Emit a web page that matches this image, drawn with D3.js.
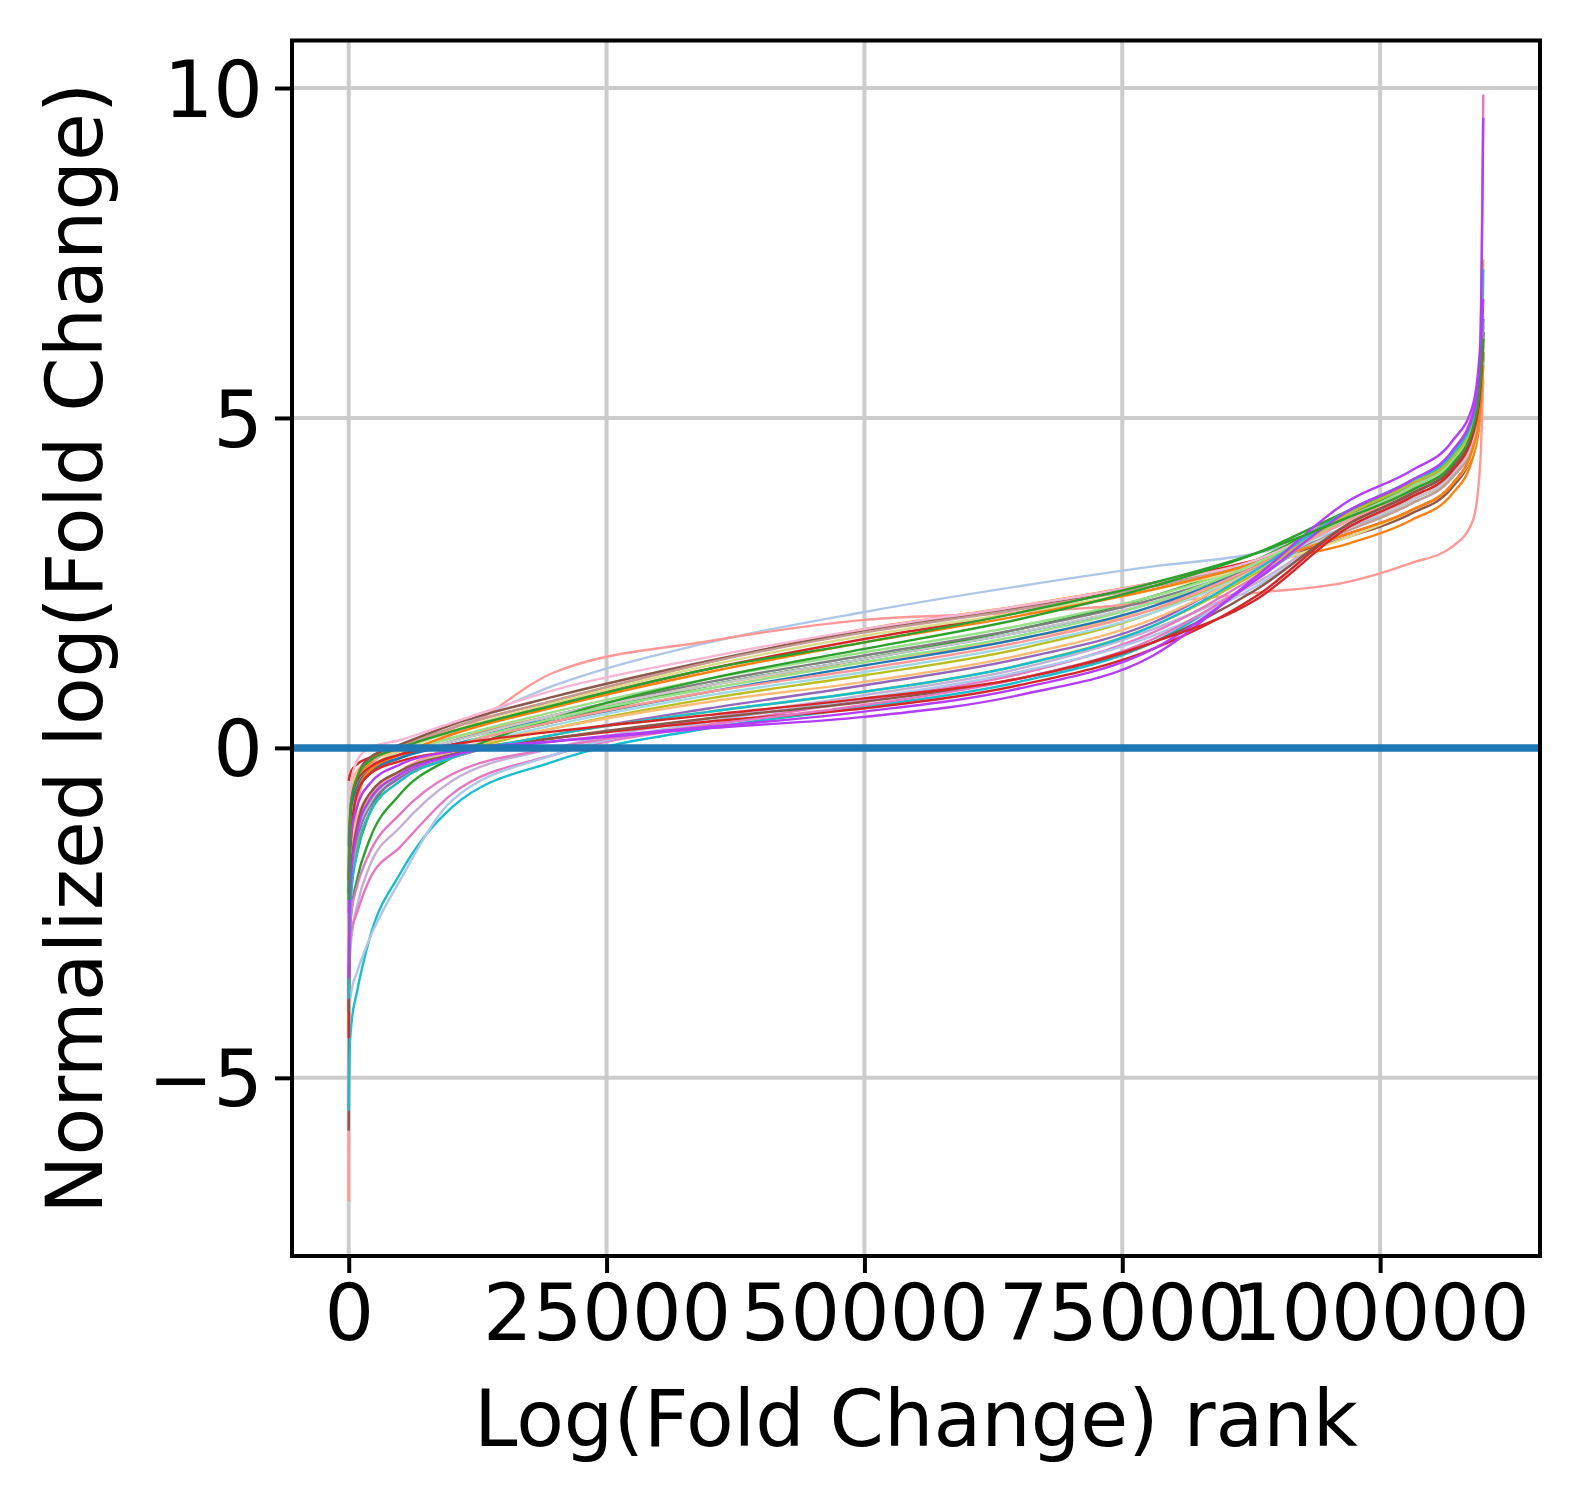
<!DOCTYPE html>
<html><head><meta charset="utf-8">
<script src="https://cdn.jsdelivr.net/npm/d3@7"></script>
<style>html,body{margin:0;padding:0;background:#fff;}svg{display:block;}</style>
</head><body>
<svg id="chart" width="1579" height="1509"></svg>
<script>
// Shared rank grid (x knots) for all series
const ranks = [0, 60, 250, 800, 2000, 5000, 10000, 20000, 35000, 50000, 65000, 78000, 88000, 97000, 103000, 107000, 109000, 109700, 110000];

const seriesColors = [
  "#1f77b4","#aec7e8","#ff7f0e","#ffbb78","#2ca02c","#98df8a","#d62728","#ff9896",
  "#9467bd","#c5b0d5","#8c564b","#c49c94","#e377c2","#f7b6d2","#7f7f7f","#c7c7c7",
  "#bcbd22","#dbdb8d","#17becf","#9edae5",
  "#1f77b4","#aec7e8","#ff7f0e","#ffbb78","#2ca02c","#98df8a","#d62728","#ff9896",
  "#8c564b","#e377c2","#bcbd22","#17becf","#b33dfb","#b33dfb","#d62728","#2ca02c"
];

const seriesValues = [
  [-1.5,-1.2,-0.8,-0.55,-0.35,-0.15,0.1,0.45,0.95,1.35,1.75,2.2,2.75,3.45,3.85,4.25,4.8,5.4,6.2],
  [-2.0,-1.3,-0.8,-0.45,-0.2,0.05,0.3,0.95,1.6,2.06,2.45,2.75,2.95,3.35,3.7,4.1,4.6,5.3,7.1],
  [-3.0,-1.6,-0.9,-0.5,-0.25,0.0,0.3,0.72,1.3,1.8,2.15,2.5,2.8,3.1,3.45,3.85,4.4,5.0,6.0],
  [-2.2,-1.1,-0.6,-0.35,-0.2,-0.05,0.15,0.5,0.95,1.3,1.65,2.1,2.65,3.35,3.8,4.2,4.7,5.3,6.1],
  [-3.0,-2.6,-2.1,-1.6,-1.0,-0.4,0.0,0.4,0.95,1.35,1.8,2.3,2.85,3.55,3.95,4.35,4.9,5.5,6.3],
  [-2.5,-1.5,-0.9,-0.55,-0.3,-0.1,0.15,0.55,1.05,1.45,1.85,2.3,2.8,3.45,3.9,4.35,4.95,5.7,6.55],
  [-0.5,-0.45,-0.35,-0.25,-0.15,0.0,0.25,0.65,1.2,1.65,2.05,2.5,2.85,3.25,3.6,4.0,4.55,5.2,6.0],
  [-6.87,-3.5,-1.8,-0.9,-0.3,0.05,0.22,1.15,1.62,1.94,2.05,2.2,2.35,2.52,2.8,3.05,3.45,4.3,5.6],
  [-3.2,-2.5,-1.9,-1.4,-0.9,-0.45,-0.15,0.2,0.6,0.95,1.35,1.9,2.75,3.6,4.0,4.45,5.0,5.7,6.5],
  [-4.0,-3.4,-2.9,-2.4,-1.8,-1.2,-0.5,0.0,0.45,0.8,1.2,1.8,2.5,3.4,3.85,4.3,4.85,5.5,6.2],
  [-5.8,-2.5,-1.2,-0.45,-0.15,0.05,0.35,0.78,1.32,1.78,2.12,2.45,2.8,3.2,3.55,3.95,4.5,5.1,5.9],
  [-2.6,-1.4,-0.8,-0.45,-0.2,0.0,0.3,0.72,1.3,1.75,2.1,2.45,2.8,3.3,3.7,4.1,4.6,5.2,6.0],
  [-3.4,-3.1,-2.8,-2.5,-2.0,-1.5,-0.7,-0.1,0.35,0.72,1.12,1.75,2.6,3.5,3.95,4.4,4.95,5.6,6.4],
  [-2.0,-1.0,-0.5,-0.2,0.0,0.12,0.38,0.88,1.38,1.8,2.15,2.5,2.85,3.5,3.9,4.3,4.85,5.6,6.4],
  [-2.8,-1.8,-1.1,-0.7,-0.4,-0.15,0.1,0.5,1.0,1.4,1.8,2.25,2.75,3.35,3.75,4.15,4.7,5.3,6.0],
  [-2.5,-1.6,-1.0,-0.6,-0.35,-0.1,0.1,0.5,0.95,1.35,1.75,2.2,2.7,3.35,3.75,4.15,4.65,5.3,6.0],
  [-3.5,-2.4,-1.7,-1.2,-0.8,-0.4,-0.1,0.3,0.75,1.1,1.5,2.05,2.75,3.6,4.05,4.45,5.0,5.8,7.4],
  [-2.8,-1.5,-0.9,-0.5,-0.3,-0.05,0.25,0.68,1.25,1.7,2.05,2.4,2.75,3.2,3.6,4.0,4.5,5.1,5.8],
  [-5.5,-4.7,-4.2,-3.7,-2.9,-1.9,-0.9,-0.2,0.3,0.62,1.0,1.6,2.55,3.55,4.0,4.45,5.0,5.8,7.25],
  [-3.0,-2.2,-1.6,-1.1,-0.7,-0.35,-0.05,0.35,0.8,1.15,1.55,2.05,2.7,3.45,3.9,4.3,4.85,5.5,6.3],
  [-2.2,-1.4,-0.9,-0.6,-0.35,-0.15,0.05,0.4,0.85,1.25,1.65,2.15,2.75,3.5,3.9,4.3,4.85,5.5,6.3],
  [-4.4,-4.0,-3.7,-3.4,-2.9,-2.0,-0.8,-0.1,0.4,0.75,1.15,1.7,2.45,3.35,3.8,4.2,4.75,5.4,6.2],
  [-4.3,-2.6,-1.4,-0.7,-0.35,-0.1,0.2,0.62,1.15,1.6,2.0,2.4,2.8,3.25,3.6,4.0,4.55,5.1,5.8],
  [-3.0,-2.2,-1.6,-1.1,-0.7,-0.35,-0.05,0.3,0.7,1.0,1.4,1.95,2.7,3.5,3.9,4.3,4.85,5.5,6.2],
  [-3.6,-3.0,-2.5,-2.0,-1.4,-0.7,-0.15,0.45,1.05,1.5,1.95,2.45,2.95,3.6,4.0,4.4,4.95,5.6,6.3],
  [-3.2,-2.4,-1.8,-1.3,-0.85,-0.4,0.0,0.45,0.9,1.3,1.7,2.2,2.8,3.5,3.95,4.35,4.9,5.6,6.4],
  [-4.4,-2.5,-1.3,-0.7,-0.4,-0.2,-0.05,0.15,0.4,0.6,0.95,1.5,2.3,3.4,3.85,4.25,4.8,5.5,6.3],
  [-3.4,-2.4,-1.7,-1.2,-0.75,-0.35,0.0,0.4,0.85,1.2,1.6,2.1,2.75,3.45,3.9,4.3,4.85,5.5,6.2],
  [-4.0,-2.7,-1.8,-1.2,-0.7,-0.35,-0.1,0.15,0.45,0.7,1.05,1.6,2.4,3.4,3.85,4.25,4.8,5.5,6.2],
  [-3.0,-2.8,-2.5,-2.1,-1.6,-1.0,-0.4,0.0,0.35,0.65,1.05,1.65,2.55,3.6,4.05,4.5,5.1,6.0,9.9],
  [-3.5,-2.7,-2.0,-1.5,-1.0,-0.5,-0.15,0.2,0.55,0.85,1.25,1.85,2.65,3.55,4.0,4.4,4.95,5.6,6.4],
  [-3.8,-2.9,-2.2,-1.6,-1.0,-0.5,-0.15,0.2,0.55,0.85,1.25,1.85,2.7,3.6,4.05,4.45,5.0,5.7,6.5],
  [-2.5,-1.8,-1.3,-0.9,-0.55,-0.25,-0.05,0.1,0.3,0.47,0.8,1.4,2.6,3.75,4.2,4.65,5.2,6.1,9.55],
  [-3.5,-2.6,-1.9,-1.3,-0.8,-0.4,-0.12,0.1,0.32,0.55,0.9,1.5,2.55,3.6,4.05,4.5,5.05,5.8,6.8],
  [-2.0,-1.3,-0.8,-0.5,-0.3,-0.1,0.05,0.25,0.5,0.75,1.05,1.6,2.25,3.35,3.8,4.2,4.75,5.4,6.1],
  [-2.3,-1.4,-0.8,-0.45,-0.2,0.0,0.25,0.65,1.2,1.6,2.05,2.5,2.95,3.5,3.9,4.3,4.85,5.5,6.2]
];

const xTicks = [0, 25000, 50000, 75000, 100000];
const yTicks = [-5, 0, 5, 10];
const xLabel = "Log(Fold Change) rank";
const yLabel = "Normalized log(Fold Change)";
const referenceLine = 0;

const svg = d3.select("#chart");
const L = 292, R = 1540, T = 40.5, B = 1256;
const x = d3.scaleLinear().domain([-5500, 115500]).range([L, R]);
const y = d3.scaleLinear().domain([-7.7, 10.72]).range([B, T]);
const font = "'DejaVu Sans', sans-serif";
const fs = 78;

svg.append("clipPath").attr("id", "plotclip").append("rect")
  .attr("x", L).attr("y", T).attr("width", R - L).attr("height", B - T);

// grid
const grid = svg.append("g");
grid.selectAll("line.vx").data(xTicks).enter().append("line")
  .attr("x1", d => x(d)).attr("x2", d => x(d)).attr("y1", T).attr("y2", B)
  .attr("stroke", "#cccccc").attr("stroke-width", 4);
grid.selectAll("line.hy").data(yTicks).enter().append("line")
  .attr("y1", d => y(d)).attr("y2", d => y(d)).attr("x1", L).attr("x2", R)
  .attr("stroke", "#cccccc").attr("stroke-width", 4);

// series
const line = d3.line().x((d, i) => x(ranks[i])).y(d => y(d)).curve(d3.curveMonotoneX);
const lines = svg.append("g").attr("clip-path", "url(#plotclip)");
seriesValues.forEach((vals, i) => {
  lines.append("path").attr("d", line(vals)).attr("fill", "none")
    .attr("stroke", seriesColors[i]).attr("stroke-width", 2.4)
    .attr("stroke-linejoin", "round");
});
// reference line
lines.append("line").attr("x1", L).attr("x2", R)
  .attr("y1", y(referenceLine)).attr("y2", y(referenceLine))
  .attr("stroke", "#1f77b4").attr("stroke-width", 7.5);

// axes
const xAxis = d3.axisBottom(x).tickValues(xTicks).tickFormat(d3.format("d")).tickSize(17).tickPadding(12);
const yAxis = d3.axisLeft(y).tickValues(yTicks).tickFormat(d => d < 0 ? "\u2212" + Math.abs(d) : d).tickSize(17).tickPadding(12);
const gx = svg.append("g").attr("transform", `translate(0,${B})`).call(xAxis);
const gy = svg.append("g").attr("transform", `translate(${L},0)`).call(yAxis);
[gx, gy].forEach(g => {
  g.select(".domain").remove();
  g.selectAll(".tick line").attr("stroke", "#000").attr("stroke-width", 4);
  g.selectAll("text").attr("font-family", font).attr("font-size", fs).attr("fill", "#000");
});
gx.selectAll("text").attr("dy", "0.71em");
gy.selectAll("text").attr("dy", "0.36em");

// frame
svg.append("rect").attr("x", L).attr("y", T).attr("width", R - L).attr("height", B - T)
  .attr("fill", "none").attr("stroke", "#000").attr("stroke-width", 4);

// labels
svg.append("text").attr("x", (L + R) / 2).attr("y", 1446).attr("text-anchor", "middle")
  .attr("font-family", font).attr("font-size", fs).text(xLabel);
svg.append("text").attr("transform", `translate(102,${(T + B) / 2}) rotate(-90)`)
  .attr("text-anchor", "middle").attr("font-family", font).attr("font-size", fs).text(yLabel);
</script>
</body></html>
